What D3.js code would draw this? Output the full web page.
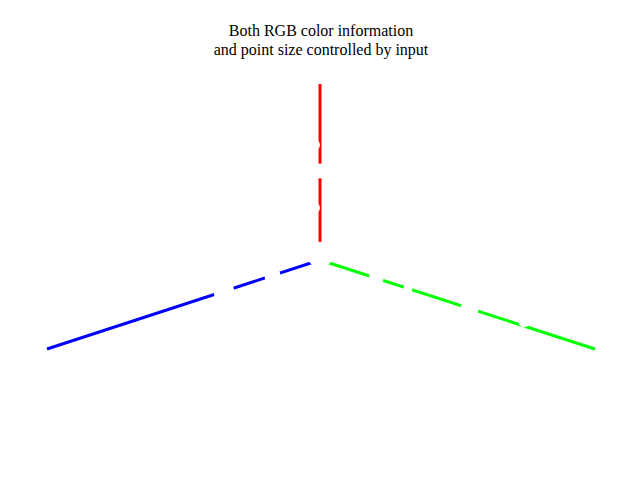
<!DOCTYPE html>
<html>
  <head>
      <script src="https://cdn.jsdelivr.net/npm/d3@7"></script>
      <style>
      body {margin: 0; background-color: #ffffff;}
      </style>
   </head>
<body style="overflow: hidden;">
<div id="canvas"></div>

<script type="text/javascript">

    var titleLines = ["Both RGB color information", "and point size controlled by input"];

    // the three axes, each drawn from 0 to 1
    var axisNames = ["x", "y", "z"];
    var axisColors = ["#0000ff", "#00ff00", "#ff0000"];

    // points (x, y, z, point size, rgb); they come out white so they cut the axes
    var ptX    = [0.000, 0.352, 0.174, 0.000, 0.000, 0.000, 0.000, 0.020, 0.000, 0.020];
    var ptY    = [0.000, 0.000, 0.000, 0.204, 0.320, 0.544, 0.742, 0.000, 0.000, 0.000];
    var ptZ    = [0.030, 0.000, 0.000, 0.000, 0.000, 0.000, 0.020, 0.664, 0.506, 0.306];
    var ptSize = [4.3,   3.5,   2.7,   2.5,   1.5,   3.0,   1.7,   1.8,   2.5,   1.8];
    var ptRgb  = ["#ffffff", "#ffffff", "#ffffff", "#ffffff", "#ffffff",
                  "#ffffff", "#ffffff", "#ffffff", "#ffffff", "#ffffff"];

    var width = 640, height = 480;
    var origin = {x: 320, y: 260};

    // screen offset of each 3d axis
    var xToX = d3.scaleLinear().domain([0, 1]).range([0, -273]);
    var xToY = d3.scaleLinear().domain([0, 1]).range([0, 89]);
    var yToX = d3.scaleLinear().domain([0, 1]).range([0, 275]);
    var yToY = d3.scaleLinear().domain([0, 1]).range([0, 89]);
    var zToY = d3.scaleLinear().domain([0, 1]).range([0, -176]);
    var sizeScale = d3.scaleLinear().domain([0, 1]).range([0, 3]);

    function project(x, y, z) {
        return [origin.x + xToX(x) + yToX(y),
                origin.y + xToY(x) + yToY(y) + zToY(z)];
    }

    var svg = d3.select("#canvas").append("svg")
            .attr("width", width)
            .attr("height", height);

    svg.append("rect")
            .attr("width", width)
            .attr("height", height)
            .style("fill", "#ffffff");

    svg.selectAll("text.title")
            .data(titleLines)
            .enter().append("text")
            .attr("class", "title")
            .attr("x", 321)
            .attr("y", function (d, i) { return 36 + i * 19; })
            .attr("text-anchor", "middle")
            .attr("font-family", "Liberation Serif")
            .attr("font-size", "16px")
            .attr("fill", "black")
            .text(function (d) { return d; });

    var axes = axisNames.map(function (n, i) {
        var end = [0, 0, 0];
        end[i] = 1;
        return {name: n, color: axisColors[i], a: project(0, 0, 0), b: project(end[0], end[1], end[2])};
    });

    svg.selectAll("line.axis")
            .data(axes)
            .enter().append("line")
            .attr("class", "axis")
            .style("stroke", function (d) { return d.color; })
            .style("stroke-width", 3)
            .attr("x1", function (d) { return d.a[0]; })
            .attr("y1", function (d) { return d.a[1]; })
            .attr("x2", function (d) { return d.b[0]; })
            .attr("y2", function (d) { return d.b[1]; });

    var points = ptX.map(function (x, i) {
        return {p: project(x, ptY[i], ptZ[i]), r: sizeScale(ptSize[i]), c: ptRgb[i]};
    });

    svg.selectAll("circle")
            .data(points)
            .enter().append("circle")
            .style("fill", function (d) { return d.c; })
            .attr("cx", function (d) { return d.p[0]; })
            .attr("cy", function (d) { return d.p[1]; })
            .attr("r", function (d) { return d.r; });

</script>
</body>
</html>
